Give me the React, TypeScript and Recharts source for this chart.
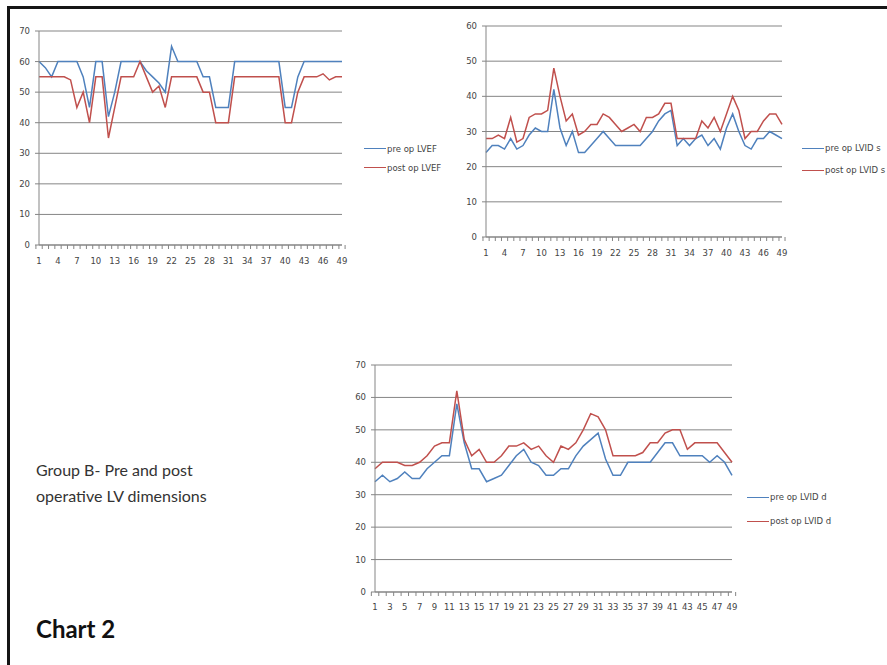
import React from "react";
import { LineChart, Line, XAxis, YAxis, CartesianGrid, Legend } from "recharts";

// Patient numbers shared by all three panels
const patients = [
  1, 2, 3, 4, 5, 6, 7, 8, 9, 10, 11, 12, 13, 14, 15, 16, 17, 18, 19, 20,
  21, 22, 23, 24, 25, 26, 27, 28, 29, 30, 31, 32, 33, 34, 35, 36, 37, 38, 39, 40,
  41, 42, 43, 44, 45, 46, 47, 48, 49,
];

// LVEF (%)
const lvefPre = [
  60, 58, 55, 60, 60, 60, 60, 55, 45, 60,
  60, 42, 50, 60, 60, 60, 60, 57, 55, 53,
  50, 65, 60, 60, 60, 60, 55, 55, 45, 45,
  45, 60, 60, 60, 60, 60, 60, 60, 60, 45,
  45, 55, 60, 60, 60, 60, 60, 60, 60,
];
const lvefPost = [
  55, 55, 55, 55, 55, 54, 45, 50, 40, 55,
  55, 35, 45, 55, 55, 55, 60, 55, 50, 52,
  45, 55, 55, 55, 55, 55, 50, 50, 40, 40,
  40, 55, 55, 55, 55, 55, 55, 55, 55, 40,
  40, 50, 55, 55, 55, 56, 54, 55, 55,
];

// LVID systolic (mm)
const lvidsPre = [
  24, 26, 26, 25, 28, 25, 26, 29, 31, 30,
  30, 42, 31, 26, 30, 24, 24, 26, 28, 30,
  28, 26, 26, 26, 26, 26, 28, 30, 33, 35,
  36, 26, 28, 26, 28, 29, 26, 28, 25, 31,
  35, 30, 26, 25, 28, 28, 30, 29, 28,
];
const lvidsPost = [
  28, 28, 29, 28, 34, 27, 28, 34, 35, 35,
  36, 48, 40, 33, 35, 29, 30, 32, 32, 35,
  34, 32, 30, 31, 32, 30, 34, 34, 35, 38,
  38, 28, 28, 28, 28, 33, 31, 34, 30, 35,
  40, 36, 28, 30, 30, 33, 35, 35, 32,
];

// LVID diastolic (mm)
const lviddPre = [
  34, 36, 34, 35, 37, 35, 35, 38, 40, 42,
  42, 58, 46, 38, 38, 34, 35, 36, 39, 42,
  44, 40, 39, 36, 36, 38, 38, 42, 45, 47,
  49, 41, 36, 36, 40, 40, 40, 40, 43, 46,
  46, 42, 42, 42, 42, 40, 42, 40, 36,
];
const lviddPost = [
  38, 40, 40, 40, 39, 39, 40, 42, 45, 46,
  46, 62, 47, 42, 44, 40, 40, 42, 45, 45,
  46, 44, 45, 42, 40, 45, 44, 46, 50, 55,
  54, 50, 42, 42, 42, 42, 43, 46, 46, 49,
  50, 50, 44, 46, 46, 46, 46, 43, 40,
];

const ticks70 = [0, 10, 20, 30, 40, 50, 60, 70];
const ticks60 = [0, 10, 20, 30, 40, 50, 60];

const BLUE = "#4f81bd";
const RED = "#c0504d";
const GRID = "#858585";
const AXIS_TEXT = "#444";
const TICK_FONT = "'DejaVu Sans', 'Liberation Sans', sans-serif";
const TICK_SIZE = 8.5;

const build = (pre: number[], post: number[]) =>
  patients.map((p, i) => ({ patient: p, pre: pre[i], post: post[i] }));

const lvefData = build(lvefPre, lvefPost);
const lvidsData = build(lvidsPre, lvidsPost);
const lviddData = build(lviddPre, lviddPost);

// Category axis tick: a small mark at every category boundary, a label every `step`
function CategoryTick(props: any) {
  const { x, y, payload, index, step, band, count, labelDy } = props;
  const left = x - band / 2;
  return (
    <g>
      <line x1={left} y1={y} x2={left} y2={y + 4} stroke={GRID} strokeWidth={1} />
      {index === count - 1 && (
        <line x1={x + band / 2} y1={y} x2={x + band / 2} y2={y + 4} stroke={GRID} strokeWidth={1} />
      )}
      {index % step === 0 && (
        <text
          x={x}
          y={y + labelDy}
          textAnchor="middle"
          fontSize={TICK_SIZE}
          fontFamily={TICK_FONT}
          fill={AXIS_TEXT}
        >
          {payload.value}
        </text>
      )}
    </g>
  );
}

// Series keys in the order the legend lists them
const legendOrder = ["pre", "post"];

function LegendBox(props: any) {
  const { payload, lineWidth, rowHeight } = props;
  const items = [...(payload || [])].sort(
    (a: any, b: any) => legendOrder.indexOf(a.dataKey) - legendOrder.indexOf(b.dataKey)
  );
  return (
    <div style={{ fontFamily: TICK_FONT, fontSize: TICK_SIZE, color: AXIS_TEXT }}>
      {items.map((entry: any) => (
        <div
          key={entry.value}
          style={{ display: "flex", alignItems: "center", height: rowHeight, whiteSpace: "nowrap" }}
        >
          <span
            style={{
              display: "inline-block",
              width: lineWidth,
              height: 0,
              borderTop: `1.5px solid ${entry.color}`,
              marginRight: 1,
            }}
          />
          <span>{entry.value}</span>
        </div>
      ))}
    </div>
  );
}

type PanelProps = {
  data: { patient: number; pre: number; post: number }[];
  width: number;
  height: number;
  margin: { top: number; right: number; bottom: number; left: number };
  yWidth: number;
  ticks: number[];
  max: number;
  step: number;
  labelDy: number;
  preName: string;
  postName: string;
  legendPos: { left: number; top: number };
  legendLine: number;
  legendRow: number;
};

function Panel(p: PanelProps) {
  const plotWidth = p.width - p.margin.left - p.margin.right - p.yWidth;
  const band = plotWidth / p.data.length;
  return (
    <LineChart width={p.width} height={p.height} data={p.data} margin={p.margin}>
      <CartesianGrid vertical={false} stroke={GRID} strokeWidth={1} />
      <XAxis
        dataKey="patient"
        interval={0}
        height={20}
        tickSize={0}
        tickMargin={0}
        tickLine={false}
        axisLine={{ stroke: GRID }}
        tick={
          <CategoryTick
            step={p.step}
            band={band}
            count={p.data.length}
            labelDy={p.labelDy}
          />
        }
      />
      <YAxis
        width={p.yWidth}
        domain={[0, p.max]}
        ticks={p.ticks}
        interval={0}
        tickSize={4}
        tickMargin={5}
        axisLine={{ stroke: GRID }}
        tickLine={{ stroke: GRID }}
        tick={{ fontSize: TICK_SIZE, fontFamily: TICK_FONT, fill: AXIS_TEXT }}
      />
      <Line
        type="linear"
        dataKey="pre"
        name={p.preName}
        stroke={BLUE}
        strokeWidth={1.5}
        dot={false}
        isAnimationActive={false}
      />
      <Line
        type="linear"
        dataKey="post"
        name={p.postName}
        stroke={RED}
        strokeWidth={1.5}
        dot={false}
        isAnimationActive={false}
      />
      <Legend
        layout="vertical"
        wrapperStyle={{ position: "absolute", left: p.legendPos.left, top: p.legendPos.top, width: "auto" }}
        content={<LegendBox lineWidth={p.legendLine} rowHeight={p.legendRow} />}
      />
    </LineChart>
  );
}

export default function App() {
  return (
    <div
      style={{
        position: "absolute",
        left: 0,
        top: 0,
        width: 887,
        height: 665,
        overflow: "hidden",
        background: "#ffffff",
      }}
    >
      <div
        style={{
          position: "absolute",
          left: 7,
          top: 6,
          width: 920,
          height: 720,
          borderTop: "3px solid #151515",
          borderLeft: "3px solid #151515",
        }}
      />

      <div style={{ position: "absolute", left: 0, top: 0 }}>
        <Panel
          data={lvefData}
          width={460}
          height={310}
          margin={{ top: 31, right: 118, bottom: 7, left: 0 }}
          yWidth={39}
          ticks={ticks70}
          max={70}
          step={3}
          labelDy={19}
          preName="pre op LVEF"
          postName="post op LVEF"
          legendPos={{ left: 364, top: 139 }}
          legendLine={22}
          legendRow={19}
        />
      </div>

      <div style={{ position: "absolute", left: 440, top: 0 }}>
        <Panel
          data={lvidsData}
          width={447}
          height={310}
          margin={{ top: 26, right: 105, bottom: 9, left: 0 }}
          yWidth={46}
          ticks={ticks60}
          max={60}
          step={3}
          labelDy={19}
          preName="pre op LVID s"
          postName="post op LVID s"
          legendPos={{ left: 362, top: 137 }}
          legendLine={22}
          legendRow={22}
        />
      </div>

      <div style={{ position: "absolute", left: 320, top: 345 }}>
        <Panel
          data={lviddData}
          width={567}
          height={320}
          margin={{ top: 20, right: 155, bottom: 5, left: 0 }}
          yWidth={55}
          ticks={ticks70}
          max={70}
          step={2}
          labelDy={18}
          preName="pre op LVID d"
          postName="post op LVID d"
          legendPos={{ left: 427, top: 140 }}
          legendLine={22}
          legendRow={24}
        />
      </div>

      <div
        style={{
          position: "absolute",
          left: 36,
          top: 457,
          fontFamily: "Lato, 'Open Sans', sans-serif",
          fontSize: 16,
          lineHeight: "26px",
          color: "#333",
        }}
      >
        Group B- Pre and post
        <br />
        operative LV dimensions
      </div>

      <div
        style={{
          position: "absolute",
          left: 36,
          top: 614,
          fontFamily: "Lato, 'Open Sans', sans-serif",
          fontSize: 24,
          fontWeight: 700,
          color: "#111",
        }}
      >
        Chart 2
      </div>
    </div>
  );
}
